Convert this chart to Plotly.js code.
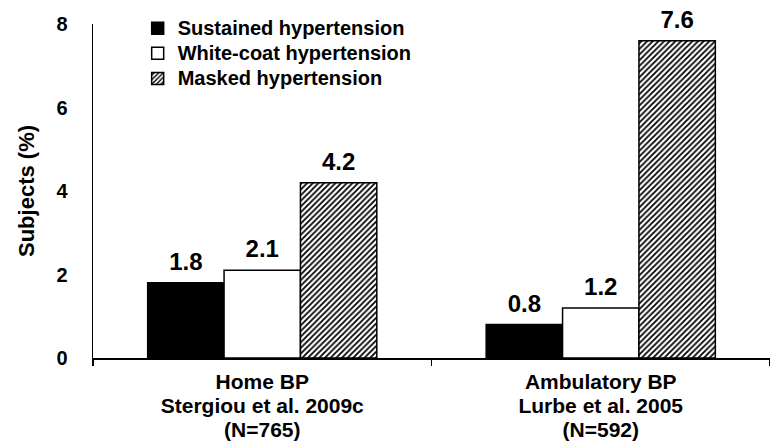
<!DOCTYPE html>
<html>
<head>
<meta charset="utf-8">
<script src="https://cdn.plot.ly/plotly-3.0.1.min.js"></script>
<style>html,body{margin:0;padding:0;background:#fff;}#chart{width:770px;height:448px;}</style>
</head>
<body>
<div id="chart"></div>
<script>
const categories = [
  "Home BP<br>Stergiou et al. 2009c<br>(N=765)",
  "Ambulatory BP<br>Lurbe et al. 2005<br>(N=592)"
];
const sustained = [1.8, 0.8];
const whiteCoat = [2.1, 1.2];
const masked = [4.2, 7.6];
const seriesNames = ["Sustained hypertension", "White-coat hypertension", "Masked hypertension"];
const yTicks = [0, 2, 4, 6, 8];

const FAMILY = "Liberation Sans, Arial, sans-serif";
const boldFont = {family: FAMILY, weight: "bold", color: "#000"};
const lineStyle = {color: "#000", width: 1.5};

// wrap text lines in a larger glyph size while keeping a tighter line pitch
function sized(str, px) {
  return str.split("<br>").map(l => '<span style="font-size:' + px + 'px">' + l + '</span>').join("<br>");
}

function barTrace(name, values, marker) {
  return {
    type: "bar",
    name: sized(name, 20),
    x: categories,
    y: values,
    text: values.map(v => sized(v.toFixed(1), 24) + '<br><span style="font-size:7px"> </span>'),
    textposition: "outside",
    textfont: Object.assign({}, boldFont, {size: 7}),
    constraintext: "none",
    cliponaxis: false,
    marker: Object.assign({line: lineStyle}, marker),
    hoverinfo: "skip"
  };
}

const data = [
  barTrace(seriesNames[0], sustained, {color: "#000"}),
  barTrace(seriesNames[1], whiteCoat, {color: "#fff"}),
  barTrace(seriesNames[2], masked, {color: "#fff", pattern: {shape: "/", size: 4, solidity: 0.45, fgcolor: "#000", bgcolor: "#fff"}})
];

const layout = {
  width: 770,
  height: 448,
  margin: {l: 93, r: 0, t: 24, b: 90},
  paper_bgcolor: "#fff",
  plot_bgcolor: "#fff",
  barmode: "group",
  bargap: 0.323,
  bargroupgap: 0,
  showlegend: true,
  legend: {
    x: 0.066, y: 1.04, xanchor: "left", yanchor: "top",
    bgcolor: "rgba(0,0,0,0)",
    font: Object.assign({}, boldFont, {size: 17}),
    tracegroupgap: 0
  },
  xaxis: {
    type: "category",
    tickvals: categories,
    ticktext: categories.map(c => sized(c, 21)),
    showline: true, linecolor: "#000", linewidth: 1.5,
    ticks: "outside", tickson: "boundaries", ticklen: 6, tickcolor: "#000", tickwidth: 1.5,
    ticklabelstandoff: 7,
    tickfont: Object.assign({}, boldFont, {size: 18.5}),
    showgrid: false, zeroline: false, fixedrange: true
  },
  yaxis: {
    range: [0, 8],
    tickvals: yTicks,
    ticktext: yTicks.map(String),
    showline: true, linecolor: "#000", linewidth: 1.5,
    ticks: "outside", ticklen: 20, tickcolor: "rgba(0,0,0,0)",
    tickfont: Object.assign({}, boldFont, {size: 20}),
    showgrid: false, zeroline: false, fixedrange: true,
    title: {text: "Subjects (%)", font: Object.assign({}, boldFont, {size: 22}), standoff: 15}
  }
};

Plotly.newPlot("chart", data, layout, {displayModeBar: false, staticPlot: true});
</script>
</body>
</html>
